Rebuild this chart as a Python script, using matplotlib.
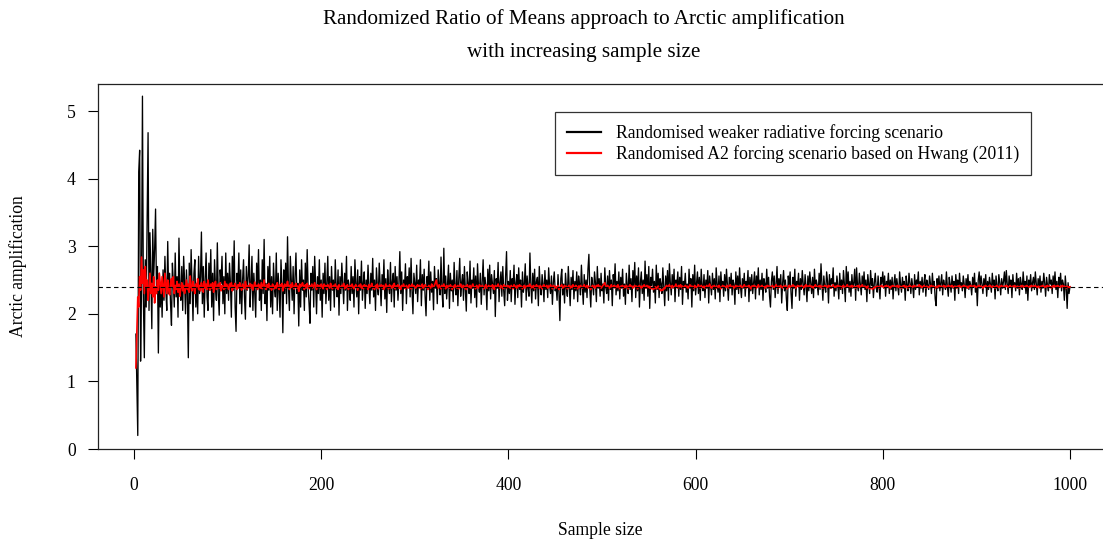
import numpy as np
import matplotlib
matplotlib.use("Agg")
import matplotlib.pyplot as plt

plt.rcParams['font.family'] = ['Liberation Serif', 'DejaVu Serif']

title_lines = ["Randomized Ratio of Means approach to Arctic amplification",
               "with increasing sample size"]
x_label = "Sample size"
y_label = "Arctic amplification"
legend_labels = ["Randomised weaker radiative forcing scenario",
                 "Randomised A2 forcing scenario based on Hwang (2011)"]
x_ticks = [0, 200, 400, 600, 800, 1000]
y_ticks = [0, 1, 2, 3, 4, 5]
reference_level = 2.4
first_sample = 2

# Randomised weaker radiative forcing scenario (sample sizes 2..1000)
weaker = [
    1.70, 0.95, 0.20, 4.10, 4.42, 1.30, 2.40, 5.22, 2.20, 1.35, 2.80, 2.10, 3.40, 4.68,
    2.05, 3.20, 2.60, 1.78, 3.25, 2.55, 2.95, 3.55, 2.30, 2.70, 1.42, 2.60, 2.10, 2.45, 1.95,
    2.65, 2.20, 2.85, 2.35, 2.05, 3.07, 2.30, 2.60, 2.15, 1.83,
    2.75, 2.45, 2.10, 2.90, 2.25, 2.55, 1.95, 3.12, 2.40, 2.20,
    2.70, 2.05, 2.85, 2.50, 2.00, 2.65, 2.30, 1.35, 2.75, 2.15,
    2.95, 2.40, 1.90, 2.60, 2.80, 2.10, 2.45, 2.00, 2.85, 2.30,
    2.55, 3.21, 2.15, 2.70, 1.95, 2.50, 2.90, 2.25, 2.05, 2.75,
    2.35, 2.95, 2.10, 2.60, 1.90, 2.80, 2.40, 2.20, 3.05, 2.30,
    1.98, 2.65, 2.45, 2.85, 2.15, 2.55, 2.00, 2.90, 2.30, 2.60,
    2.20, 2.75, 2.45, 1.95, 2.85, 2.35, 3.08, 2.10, 1.74, 2.60,
    2.40, 2.90, 2.15, 2.65, 2.00, 2.50, 2.80, 2.25, 1.92, 2.70,
    2.35, 2.55, 3.02, 2.10, 2.45, 2.85, 2.05, 2.60, 2.30, 1.95,
    2.75, 2.40, 2.95, 2.20, 2.50, 2.05, 2.80, 2.30, 3.10, 2.15,
    2.45, 1.90, 2.70, 2.35, 2.85, 2.10, 2.55, 2.00, 2.75, 2.40,
    2.25, 2.90, 2.05, 2.60, 2.35, 1.95, 2.80, 2.45, 1.72, 2.65,
    2.30, 2.75, 2.15, 3.14, 2.40, 2.05, 2.85, 2.50, 2.20, 2.70,
    2.00, 2.55, 2.90, 2.30, 2.45, 1.82, 2.65, 2.10, 2.80, 2.35,
    2.50, 2.05, 2.75, 2.25, 2.95, 2.40, 2.15, 1.86, 2.60, 2.35,
    2.70, 2.10, 2.85, 2.45, 2.00, 2.55, 2.30, 2.80, 2.20, 2.50,
    1.95, 2.60, 2.30, 2.75, 2.15, 2.45, 2.85, 2.20, 2.55, 2.05,
    2.70, 2.35, 2.50, 2.10, 2.80, 2.40, 2.25, 2.65, 1.98, 2.55,
    2.30, 2.75, 2.45, 2.15, 2.60, 2.35, 2.85, 2.05, 2.50, 2.40,
    2.20, 2.70, 2.30, 2.55, 2.10, 2.80, 2.45, 2.25, 2.65, 2.00,
    2.55, 2.35, 2.78, 2.20, 2.45, 2.62, 2.08, 2.50, 2.30, 2.72,
    2.40, 2.15, 2.60, 2.35, 2.82, 2.25, 2.50, 2.05, 2.68, 2.40,
    2.28, 2.75, 2.45, 2.12, 2.58, 2.36, 2.80, 2.22, 2.52, 2.02,
    2.65, 2.40, 2.30, 2.76, 2.18, 2.48, 2.60, 2.10, 2.70, 2.35,
    2.55, 2.20, 2.45, 2.92, 2.30, 2.62, 2.05, 2.50, 2.38, 2.74,
    2.15, 2.55, 2.40, 2.68, 2.25, 2.82, 2.35, 2.00, 2.60, 2.45,
    2.30, 2.72, 2.18, 2.50, 2.42, 2.80, 2.12, 2.58, 2.35, 2.66,
    2.25, 1.97, 2.55, 2.40, 2.78, 2.20, 2.62, 2.32, 2.48, 2.06,
    2.70, 2.38, 2.52, 2.15, 2.65, 2.42, 2.28, 2.84, 2.36, 2.10,
    2.97, 2.30, 2.56, 2.22, 2.45, 2.72, 2.08, 2.60, 2.34, 2.50,
    2.18, 2.76, 2.40, 2.28, 2.64, 2.12, 2.52, 2.82, 2.26, 2.46,
    2.58, 2.20, 2.70, 2.36, 2.04, 2.62, 2.44, 2.30, 2.78, 2.16,
    2.50, 2.38, 2.68, 2.24, 2.56, 2.10, 2.74, 2.42, 2.32, 2.60,
    2.14, 2.48, 2.80, 2.28, 2.54, 2.40, 2.06, 2.66, 2.34, 2.72,
    2.22, 2.58, 2.44, 2.30, 2.64, 1.96, 2.52, 2.38, 2.76, 2.18,
    2.46, 2.62, 2.26, 2.70, 2.34, 2.12, 2.56, 2.92, 2.20, 2.48,
    2.30, 2.64, 2.18, 2.52, 2.40, 2.72, 2.14, 2.46, 2.58, 2.24,
    2.68, 2.36, 2.50, 2.10, 2.62, 2.32, 2.44, 2.74, 2.20, 2.56,
    2.38, 2.26, 2.90, 2.42, 2.16, 2.60, 2.34, 2.66, 2.22, 2.48,
    2.54, 2.12, 2.70, 2.40, 2.28, 2.58, 2.44, 2.18, 2.64, 2.36,
    2.50, 2.24, 2.68, 2.42, 2.30, 2.56, 2.14, 2.46, 2.62, 2.34,
    2.40, 2.20, 2.58, 2.32, 1.90, 2.52, 2.66, 2.28, 2.44, 2.16,
    2.60, 2.38, 2.26, 2.70, 2.42, 2.12, 2.54, 2.36, 2.64, 2.22,
    2.48, 2.34, 2.62, 2.18, 2.56, 2.44, 2.28, 2.72, 2.40, 2.14,
    2.58, 2.32, 2.50, 2.24, 2.66, 2.88, 2.36, 2.10, 2.54, 2.42,
    2.28, 2.62, 2.46, 2.18, 2.70, 2.38, 2.52, 2.26, 2.60, 2.34,
    2.44, 2.16, 2.68, 2.40, 2.30, 2.56, 2.20, 2.64, 2.36, 2.50,
    2.12, 2.58, 2.42, 2.74, 2.28, 2.48, 2.34, 2.62, 2.22, 2.54,
    2.38, 2.66, 2.26, 2.44, 2.14, 2.60, 2.40, 2.30, 2.72, 2.36,
    2.52, 2.18, 2.64, 2.42, 2.76, 2.24, 2.56, 2.34, 2.68, 2.10,
    2.46, 2.62, 2.30, 2.50, 2.20, 2.78, 2.38, 2.58, 2.26, 2.70,
    2.08, 2.54, 2.42, 2.66, 2.32, 2.48, 2.16, 2.72, 2.36, 2.60,
    2.24, 2.52, 2.44, 2.30, 2.68, 2.40, 2.12, 2.56, 2.34, 2.64,
    2.20, 2.74, 2.46, 2.28, 2.58, 2.38, 2.66, 2.18, 2.50, 2.42,
    2.62, 2.26, 2.54, 2.36, 2.70, 2.14, 2.48, 2.40, 2.60, 2.32,
    2.44, 2.22, 2.66, 2.38, 2.52, 2.10, 2.58, 2.34, 2.72, 2.28,
    2.46, 2.62, 2.30, 2.54, 2.20, 2.66, 2.40, 2.34, 2.58, 2.24,
    2.50, 2.38, 2.64, 2.16, 2.56, 2.42, 2.28, 2.60, 2.36, 2.52,
    2.22, 2.68, 2.44, 2.32, 2.56, 2.18, 2.62, 2.40, 2.48, 2.26,
    2.58, 2.34, 2.66, 2.42, 2.20, 2.54, 2.38, 2.60, 2.28, 2.50,
    2.44, 2.14, 2.62, 2.36, 2.56, 2.30, 2.68, 2.40, 2.24, 2.52,
    2.38, 2.60, 2.26, 2.48, 2.42, 2.64, 2.18, 2.54, 2.34, 2.58,
    2.30, 2.46, 2.62, 2.22, 2.56, 2.40, 2.68, 2.28, 2.50, 2.36,
    2.60, 2.20, 2.52, 2.44, 2.32, 2.66, 2.38, 2.54, 2.26, 2.10,
    2.48, 2.62, 2.36, 2.56, 2.24, 2.44, 2.70, 2.30, 2.52, 2.40,
    2.58, 2.16, 2.46, 2.64, 2.34, 2.50, 2.22, 2.05, 2.56, 2.42,
    2.62, 2.30, 2.08, 2.54, 2.38, 2.66, 2.26, 2.48, 2.42, 2.60,
    2.20, 2.52, 2.36, 2.64, 2.44, 2.28, 2.58, 2.40, 2.18, 2.56,
    2.34, 2.62, 2.46, 2.30, 2.54, 2.24, 2.66, 2.38, 2.50, 2.42,
    2.28, 2.60, 2.36, 2.74, 2.44, 2.20, 2.56, 2.40, 2.32, 2.62,
    2.48, 2.16, 2.58, 2.38, 2.52, 2.44, 2.68, 2.26, 2.46, 2.34,
    2.56, 2.42, 2.22, 2.60, 2.36, 2.50, 2.30, 2.64, 2.44, 2.18,
    2.70, 2.40, 2.62, 2.32, 2.48, 2.26, 2.58, 2.38, 2.46, 2.66,
    2.20, 2.68, 2.42, 2.34, 2.60, 2.44, 2.28, 2.56, 2.40, 2.62,
    2.36, 2.50, 2.18, 2.58, 2.44, 2.30, 2.64, 2.42, 2.52, 2.24,
    2.46, 2.60, 2.38, 2.32, 2.56, 2.40, 2.22, 2.54, 2.44, 2.62,
    2.38, 2.56, 2.26, 2.48, 2.42, 2.60, 2.30, 2.50, 2.36, 2.54,
    2.22, 2.46, 2.58, 2.34, 2.52, 2.40, 2.28, 2.62, 2.44, 2.32,
    2.54, 2.38, 2.48, 2.20, 2.56, 2.42, 2.34, 2.60, 2.46, 2.30,
    2.52, 2.40, 2.24, 2.58, 2.36, 2.50, 2.44, 2.62, 2.28, 2.48,
    2.38, 2.54, 2.32, 2.46, 2.58, 2.26, 2.50, 2.42, 2.36, 2.56,
    2.44, 2.30, 2.60, 2.40, 2.48, 2.22, 2.12, 2.52, 2.38, 2.56,
    2.34, 2.46, 2.58, 2.28, 2.50, 2.42, 2.36, 2.62, 2.40, 2.26,
    2.54, 2.44, 2.32, 2.56, 2.38, 2.48, 2.20, 2.58, 2.42, 2.50,
    2.30, 2.60, 2.40, 2.46, 2.34, 2.56, 2.44, 2.24, 2.52, 2.38,
    2.58, 2.36, 2.48, 2.42, 2.28, 2.54, 2.40, 2.60, 2.32, 2.46,
    2.12, 2.50, 2.62, 2.38, 2.56, 2.44, 2.30, 2.52, 2.40, 2.58,
    2.26, 2.48, 2.36, 2.54, 2.44, 2.32, 2.60, 2.42, 2.50, 2.22,
    2.56, 2.40, 2.34, 2.58, 2.46, 2.28, 2.52, 2.38, 2.48, 2.62,
    2.36, 2.64, 2.44, 2.30, 2.56, 2.42, 2.50, 2.24, 2.58, 2.40,
    2.46, 2.34, 2.60, 2.38, 2.52, 2.28, 2.54, 2.44, 2.36, 2.62,
    2.42, 2.48, 2.30, 2.56, 2.20, 2.50, 2.40, 2.58, 2.34, 2.46,
    2.54, 2.36, 2.62, 2.44, 2.28, 2.52, 2.40, 2.56, 2.32, 2.48,
    2.38, 2.60, 2.46, 2.26, 2.54, 2.42, 2.34, 2.58, 2.44, 2.50,
    2.30, 2.56, 2.40, 2.62, 2.36, 2.48, 2.24, 2.54, 2.42, 2.60,
    2.34, 2.50, 2.44, 2.20, 2.56, 2.38, 2.08, 2.46, 2.30, 2.40,
]

# Randomised A2 forcing scenario based on Hwang (2011) (sample sizes 2..1000)
a2 = [
    1.20, 1.75, 2.25, 2.10, 2.55, 2.35, 2.84, 2.45, 2.65, 2.30, 2.70, 2.40, 2.50, 2.20,
    2.35, 2.60, 2.30, 2.45, 2.25, 2.55, 2.16, 2.40, 2.30, 2.50, 2.35, 2.60, 2.45, 2.30, 2.55,
    2.40, 2.25, 2.60, 2.45, 2.30, 2.50, 2.35, 2.28, 2.45, 2.52,
    2.40, 2.55, 2.30, 2.42, 2.36, 2.48, 2.32, 2.44, 2.26, 2.40,
    2.46, 2.34, 2.42, 2.30, 2.38, 2.50, 2.36, 2.44, 2.32, 2.56,
    2.40, 2.34, 2.48, 2.38, 2.30, 2.44, 2.40, 2.52, 2.36, 2.42,
    2.34, 2.46, 2.40, 2.32, 2.48, 2.38, 2.44, 2.36, 2.50, 2.40,
    2.35, 2.44, 2.38, 2.46, 2.32, 2.42, 2.48, 2.36, 2.40, 2.44,
    2.38, 2.46, 2.34, 2.42, 2.40, 2.36, 2.48, 2.38, 2.44, 2.40,
    2.36, 2.44, 2.40, 2.46, 2.34, 2.42, 2.38, 2.45, 2.40, 2.36,
    2.43, 2.38, 2.46, 2.40, 2.35, 2.44, 2.40, 2.37, 2.48, 2.41,
    2.36, 2.42, 2.39, 2.45, 2.38, 2.43, 2.35, 2.41, 2.47, 2.39,
    2.42, 2.36, 2.44, 2.40, 2.38, 2.46, 2.37, 2.42, 2.50, 2.40,
    2.36, 2.43, 2.39, 2.45, 2.38, 2.41, 2.35, 2.44, 2.40, 2.37,
    2.42, 2.38, 2.46, 2.40, 2.36, 2.43, 2.39, 2.45, 2.34, 2.41,
    2.44, 2.38, 2.42, 2.48, 2.40, 2.36, 2.43, 2.39, 2.46, 2.40,
    2.37, 2.42, 2.45, 2.38, 2.41, 2.33, 2.44, 2.39, 2.42, 2.46,
    2.40, 2.36, 2.43, 2.38, 2.45, 2.40, 2.37, 2.42, 2.39, 2.44,
    2.38, 2.41, 2.46, 2.40, 2.36, 2.43, 2.39, 2.42, 2.38, 2.44,
    2.41, 2.37, 2.44, 2.39, 2.42, 2.36, 2.43, 2.40, 2.38, 2.45,
    2.40, 2.37, 2.42, 2.39, 2.44, 2.38, 2.41, 2.36, 2.43, 2.40,
    2.38, 2.42, 2.40, 2.45, 2.37, 2.41, 2.39, 2.43, 2.36, 2.40,
    2.42, 2.38, 2.44, 2.40, 2.37, 2.41, 2.43, 2.39, 2.35, 2.42,
    2.40, 2.44, 2.38, 2.41, 2.37, 2.43, 2.39, 2.42, 2.40, 2.36,
    2.43, 2.39, 2.41, 2.45, 2.38, 2.40, 2.36, 2.42, 2.39, 2.44,
    2.37, 2.41, 2.40, 2.43, 2.38, 2.42, 2.36, 2.40, 2.44, 2.39,
    2.41, 2.37, 2.43, 2.40, 2.38, 2.42, 2.39, 2.45, 2.37, 2.41,
    2.40, 2.43, 2.38, 2.41, 2.36, 2.42, 2.40, 2.44, 2.39, 2.37,
    2.42, 2.40, 2.38, 2.43, 2.41, 2.37, 2.44, 2.39, 2.42, 2.40,
    2.38, 2.41, 2.43, 2.39, 2.42, 2.37, 2.40, 2.44, 2.38, 2.41,
    2.43, 2.39, 2.40, 2.36, 2.42, 2.40, 2.38, 2.44, 2.41, 2.39,
    2.42, 2.46, 2.50, 2.41, 2.38, 2.43, 2.40, 2.37, 2.42, 2.39,
    2.44, 2.40, 2.37, 2.42, 2.39, 2.41, 2.38, 2.43, 2.40, 2.36,
    2.41, 2.39, 2.43, 2.40, 2.38, 2.42, 2.37, 2.41, 2.44, 2.39,
    2.40, 2.42, 2.38, 2.41, 2.36, 2.43, 2.40, 2.39, 2.42, 2.38,
    2.41, 2.44, 2.39, 2.40, 2.37, 2.42, 2.40, 2.38, 2.43, 2.41,
    2.39, 2.42, 2.40, 2.37, 2.41, 2.43, 2.38, 2.40, 2.42, 2.39,
    2.41, 2.38, 2.43, 2.40, 2.36, 2.42, 2.39, 2.41, 2.44, 2.40,
    2.38, 2.42, 2.40, 2.37, 2.43, 2.39, 2.41, 2.38, 2.42, 2.40,
    2.41, 2.38, 2.42, 2.40, 2.37, 2.43, 2.39, 2.41, 2.38, 2.42,
    2.40, 2.43, 2.39, 2.41, 2.37, 2.40, 2.42, 2.38, 2.41, 2.39,
    2.42, 2.40, 2.44, 2.38, 2.41, 2.39, 2.42, 2.37, 2.40, 2.43,
    2.39, 2.41, 2.38, 2.42, 2.40, 2.37, 2.41, 2.43, 2.39, 2.40,
    2.42, 2.38, 2.41, 2.39, 2.43, 2.40, 2.37, 2.42, 2.39, 2.41,
    2.38, 2.40, 2.42, 2.36, 2.39, 2.41, 2.43, 2.38, 2.40, 2.42,
    2.39, 2.41, 2.37, 2.40, 2.42, 2.38, 2.41, 2.39, 2.43, 2.40,
    2.38, 2.42, 2.40, 2.37, 2.41, 2.39, 2.42, 2.40, 2.38, 2.41,
    2.43, 2.39, 2.40, 2.42, 2.38, 2.41, 2.39, 2.36, 2.40, 2.42,
    2.39, 2.41, 2.38, 2.42, 2.40, 2.43, 2.39, 2.41, 2.38, 2.40,
    2.42, 2.44, 2.46, 2.41, 2.39, 2.42, 2.40, 2.38, 2.41, 2.43,
    2.39, 2.40, 2.42, 2.38, 2.41, 2.39, 2.43, 2.40, 2.37, 2.41,
    2.40, 2.42, 2.38, 2.41, 2.39, 2.42, 2.40, 2.37, 2.41, 2.43,
    2.39, 2.41, 2.38, 2.40, 2.42, 2.39, 2.41, 2.37, 2.40, 2.42,
    2.40, 2.38, 2.41, 2.39, 2.43, 2.40, 2.38, 2.42, 2.39, 2.41,
    2.38, 2.40, 2.37, 2.39, 2.36, 2.38, 2.40, 2.37, 2.39, 2.41,
    2.38, 2.36, 2.34, 2.36, 2.35, 2.38, 2.37, 2.40, 2.42, 2.39,
    2.41, 2.43, 2.40, 2.38, 2.42, 2.40, 2.39, 2.41, 2.44, 2.40,
    2.38, 2.42, 2.40, 2.43, 2.39, 2.41, 2.38, 2.40, 2.42, 2.39,
    2.41, 2.38, 2.40, 2.43, 2.39, 2.41, 2.40, 2.38, 2.42, 2.40,
    2.39, 2.41, 2.43, 2.40, 2.38, 2.42, 2.40, 2.39, 2.41, 2.38,
    2.40, 2.42, 2.39, 2.41, 2.44, 2.40, 2.38, 2.41, 2.39, 2.42,
    2.40, 2.38, 2.41, 2.39, 2.42, 2.40, 2.37, 2.40, 2.42, 2.39,
    2.41, 2.39, 2.40, 2.42, 2.38, 2.41, 2.43, 2.40, 2.39, 2.41,
    2.38, 2.40, 2.42, 2.39, 2.41, 2.40, 2.38, 2.42, 2.40, 2.39,
    2.41, 2.43, 2.40, 2.38, 2.41, 2.39, 2.42, 2.40, 2.37, 2.41,
    2.40, 2.42, 2.39, 2.41, 2.38, 2.40, 2.43, 2.40, 2.39, 2.41,
    2.42, 2.39, 2.40, 2.38, 2.41, 2.40, 2.42, 2.39, 2.41, 2.38,
    2.40, 2.42, 2.40, 2.39, 2.41, 2.43, 2.40, 2.38, 2.41, 2.39,
    2.42, 2.40, 2.38, 2.41, 2.39, 2.42, 2.40, 2.37, 2.40, 2.42,
    2.39, 2.41, 2.40, 2.43, 2.39, 2.41, 2.38, 2.40, 2.42, 2.40,
    2.41, 2.39, 2.42, 2.40, 2.38, 2.41, 2.40, 2.43, 2.39, 2.41,
    2.40, 2.42, 2.39, 2.41, 2.40, 2.38, 2.41, 2.43, 2.40, 2.39,
    2.41, 2.40, 2.42, 2.39, 2.41, 2.38, 2.40, 2.42, 2.40, 2.41,
    2.39, 2.42, 2.40, 2.41, 2.38, 2.40, 2.43, 2.40, 2.39, 2.41,
    2.40, 2.42, 2.39, 2.41, 2.40, 2.38, 2.41, 2.42, 2.40, 2.39,
    2.41, 2.43, 2.40, 2.39, 2.41, 2.40, 2.42, 2.39, 2.41, 2.40,
    2.38, 2.41, 2.40, 2.42, 2.39, 2.41, 2.40, 2.43, 2.40, 2.39,
    2.41, 2.40, 2.38, 2.41, 2.39, 2.37, 2.38, 2.39, 2.36, 2.39,
    2.38, 2.40, 2.39, 2.41, 2.40, 2.38, 2.41, 2.40, 2.42, 2.40,
    2.39, 2.41, 2.40, 2.42, 2.39, 2.41, 2.40, 2.38, 2.41, 2.40,
    2.42, 2.40, 2.39, 2.41, 2.40, 2.42, 2.39, 2.41, 2.40, 2.38,
    2.41, 2.40, 2.42, 2.39, 2.41, 2.40, 2.38, 2.41, 2.42, 2.40,
    2.39, 2.41, 2.40, 2.42, 2.40, 2.39, 2.41, 2.40, 2.43, 2.40,
    2.41, 2.39, 2.40, 2.42, 2.40, 2.38, 2.41, 2.40, 2.39, 2.41,
    2.40, 2.42, 2.39, 2.41, 2.40, 2.38, 2.40, 2.41, 2.39, 2.42,
    2.40, 2.41, 2.39, 2.40, 2.42, 2.40, 2.41, 2.39, 2.40, 2.42,
    2.39, 2.41, 2.40, 2.42, 2.40, 2.39, 2.41, 2.40, 2.38, 2.41,
    2.40, 2.42, 2.40, 2.39, 2.41, 2.40, 2.42, 2.39, 2.41, 2.40,
    2.38, 2.41, 2.40, 2.42, 2.39, 2.41, 2.40, 2.42, 2.40, 2.39,
    2.41, 2.40, 2.42, 2.39, 2.41, 2.40, 2.38, 2.41, 2.40, 2.42,
    2.40, 2.39, 2.41, 2.40, 2.42, 2.40, 2.39, 2.41, 2.40, 2.38,
    2.41, 2.42, 2.40, 2.39, 2.41, 2.40, 2.42, 2.40, 2.39, 2.41,
    2.40, 2.42, 2.41, 2.39, 2.40, 2.42, 2.40, 2.39, 2.41, 2.40,
    2.42, 2.40, 2.39, 2.41, 2.40, 2.38, 2.41, 2.40, 2.42, 2.40,
    2.39, 2.41, 2.40, 2.42, 2.40, 2.39, 2.41, 2.40, 2.42, 2.39,
    2.41, 2.40, 2.42, 2.40, 2.39, 2.41, 2.40, 2.38, 2.41, 2.40,
    2.42, 2.40, 2.39, 2.41, 2.40, 2.42, 2.39, 2.41, 2.40, 2.38,
    2.41, 2.40, 2.42, 2.39, 2.41, 2.40, 2.42, 2.40, 2.39, 2.41,
    2.40, 2.42, 2.39, 2.41, 2.40, 2.38, 2.41, 2.40, 2.39, 2.40,
]

x_weaker = np.arange(first_sample, first_sample + len(weaker))
x_a2 = np.arange(first_sample, first_sample + len(a2))

W, H = 1103, 542
fig = plt.figure(figsize=(W / 100, H / 100), dpi=100)
left_px, right_px, top_px, bottom_px = 98, 1103, 84, 449
ax = fig.add_axes([left_px / W, 1 - bottom_px / H, (right_px - left_px) / W, (bottom_px - top_px) / H])

ax.plot(x_weaker, weaker, color='black', lw=0.95, zorder=2)
ax.plot(x_a2, a2, color='#ff0000', lw=1.2, zorder=3)
ax.axhline(reference_level, color='black', lw=0.8, ls=(0, (4, 3)), zorder=4)

ax.set_xlim(-38.5, 1035.3)
ax.set_ylim(0, 5.4)
ax.set_xticks(x_ticks)
ax.set_yticks(y_ticks)
ax.set_xticklabels([str(t) for t in x_ticks])
ax.set_yticklabels([str(t) for t in y_ticks])
ax.tick_params(axis='both', direction='out', length=7, width=0.8, labelsize=12.7, colors='black')
ax.tick_params(axis='x', pad=13)
ax.tick_params(axis='y', pad=9)
for s in ['left', 'top', 'bottom']:
    ax.spines[s].set_linewidth(0.9)
    ax.spines[s].set_color('#222222')
ax.spines['right'].set_visible(False)

ax.set_xlabel(x_label, fontsize=12.7, labelpad=20)
ax.set_ylabel(y_label, fontsize=12.7, labelpad=29)

cx = 584 / W
fig.text(cx, 1 - 19 / H, title_lines[0], ha='center', va='center', fontsize=15.2)
fig.text(cx, 1 - 52 / H, title_lines[1], ha='center', va='center', fontsize=15.2)

leg = ax.legend(legend_labels, loc='upper right',
                bbox_to_anchor=((1031 - left_px) / (right_px - left_px), (bottom_px - 112) / (bottom_px - top_px)),
                borderaxespad=0, fontsize=12.7, frameon=True, fancybox=False,
                edgecolor='black', handlelength=1.9, handletextpad=0.85,
                borderpad=0.68, labelspacing=0.2)
leg.get_frame().set_linewidth(0.9)
leg.get_lines()[0].set_linewidth(1.6)
leg.get_lines()[1].set_linewidth(1.6)

fig.savefig('out.png', dpi=100)
